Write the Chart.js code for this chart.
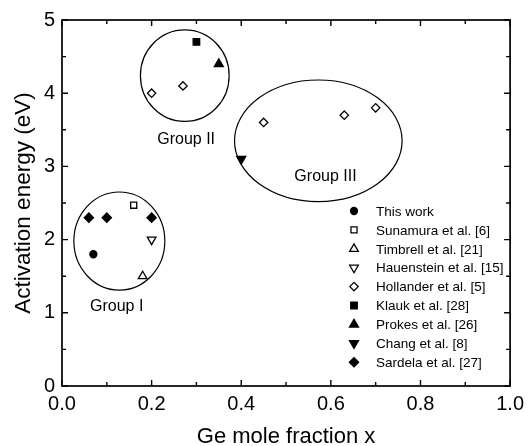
<!DOCTYPE html>
<html>
<head>
<meta charset="utf-8">
<script src="https://cdn.jsdelivr.net/npm/chart.js@4.4.1/dist/chart.umd.min.js"></script>
<style>
  html,body{margin:0;padding:0;background:#fff;}
  canvas{display:block;}
</style>
</head>
<body>
<canvas id="chart" width="530" height="446"></canvas>
<script>
// ===== data =====
const seriesNames = ['This work','Sunamura et al. [6]','Timbrell et al. [21]','Hauenstein et al. [15]',
  'Hollander et al. [5]','Klauk et al. [28]','Prokes et al. [26]','Chang et al. [8]','Sardela et al. [27]'];
const seriesX = [
  [0.07],
  [0.16],
  [0.18],
  [0.20],
  [0.20, 0.27, 0.45, 0.63, 0.70],
  [0.30],
  [0.35],
  [0.40],
  [0.06, 0.10, 0.20]
];
const seriesY = [
  [1.8],
  [2.47],
  [1.5],
  [2.0],
  [4.0, 4.1, 3.6, 3.7, 3.8],
  [4.7],
  [4.4],
  [3.1],
  [2.3, 2.3, 2.3]
];

// group ellipses (centre / half axes in data units) and their labels
const groupNames = ['Group I','Group II','Group III'];
const groupCx = [0.128, 0.274, 0.572];
const groupCy = [1.98, 4.24, 3.35];
const groupRx = [0.1015, 0.099, 0.187];
const groupRy = [0.67, 0.625, 0.83];
const groupLabelX = [0.122, 0.277, 0.588];
const groupLabelY = [1.09, 3.36, 2.86];

const xMajor = [0, 0.2, 0.4, 0.6, 0.8, 1.0];
const xMinor = [0.1, 0.3, 0.5, 0.7, 0.9];
const yMajor = [0, 1, 2, 3, 4, 5];
const yMinor = [0.5, 1.5, 2.5, 3.5, 4.5];

// ===== marker styles =====
const styles = [
  {pointStyle:'circle',   radius:3.5, fill:true,  rotation:0},
  {pointStyle:'rect',     radius:4.3, fill:false, rotation:0},
  {pointStyle:'triangle', radius:5,   fill:false, rotation:0},
  {pointStyle:'triangle', radius:5,   fill:false, rotation:180},
  {pointStyle:'rectRot',  radius:4.2, fill:false, rotation:0},
  {pointStyle:'rect',     radius:4.6, fill:true,  rotation:0},
  {pointStyle:'triangle', radius:5.2, fill:true,  rotation:0},
  {pointStyle:'triangle', radius:5.2, fill:true,  rotation:180},
  {pointStyle:'rectRot',  radius:4.6, fill:true,  rotation:0}
];

const FONT = 'Liberation Sans, Arial, Helvetica, sans-serif';

const datasets = seriesNames.map((name,i)=>({
  label:name,
  data:seriesX[i].map((x,j)=>({x:x,y:seriesY[i][j]})),
  pointStyle:styles[i].pointStyle,
  pointRadius:styles[i].radius,
  pointHoverRadius:styles[i].radius,
  pointRotation:styles[i].rotation,
  backgroundColor:styles[i].fill?'#000':'#fff',
  borderColor:'#000',
  borderWidth:1.3,
  showLine:false
}));

// frame + inward ticks on all four sides
const framePlugin = {
  id:'frame',
  afterDraw(chart){
    const {ctx, chartArea:a, scales:{x,y}} = chart;
    ctx.save();
    ctx.strokeStyle='#000';
    ctx.lineWidth=1.7;
    ctx.strokeRect(a.left, a.top, a.right-a.left, a.bottom-a.top);
    ctx.lineWidth=1.4;
    ctx.beginPath();
    const tickX=(v,len)=>{
      const px=x.getPixelForValue(v);
      ctx.moveTo(px,a.bottom); ctx.lineTo(px,a.bottom-len);
      ctx.moveTo(px,a.top);    ctx.lineTo(px,a.top+len);
    };
    const tickY=(v,len)=>{
      const py=y.getPixelForValue(v);
      ctx.moveTo(a.left,py);  ctx.lineTo(a.left+len,py);
      ctx.moveTo(a.right,py); ctx.lineTo(a.right-len,py);
    };
    xMajor.forEach(v=>tickX(v,6)); xMinor.forEach(v=>tickX(v,4));
    yMajor.forEach(v=>tickY(v,6)); yMinor.forEach(v=>tickY(v,4));
    ctx.stroke();
    ctx.restore();
  }
};

// ellipses around groups + labels
const groupPlugin = {
  id:'groups',
  beforeDatasetsDraw(chart){
    const {ctx, scales:{x,y}} = chart;
    ctx.save();
    ctx.strokeStyle='#000';
    ctx.lineWidth=1.2;
    groupNames.forEach((name,i)=>{
      const cx=x.getPixelForValue(groupCx[i]);
      const cy=y.getPixelForValue(groupCy[i]);
      const rx=Math.abs(x.getPixelForValue(groupCx[i]+groupRx[i])-cx);
      const ry=Math.abs(y.getPixelForValue(groupCy[i]+groupRy[i])-cy);
      ctx.beginPath();
      ctx.ellipse(cx,cy,rx,ry,0,0,Math.PI*2);
      ctx.stroke();
      ctx.fillStyle='#000';
      ctx.font='16px '+FONT;
      ctx.textAlign='center';
      ctx.textBaseline='middle';
      ctx.fillText(name, x.getPixelForValue(groupLabelX[i]), y.getPixelForValue(groupLabelY[i]));
    });
    ctx.restore();
  }
};

// legend inside the plot, bottom right
const legendPlugin = {
  id:'innerLegend',
  afterDraw(chart){
    const {ctx} = chart;
    const symX=354, textX=376, top=211, step=18.9;
    ctx.save();
    ctx.font='13.5px '+FONT;
    ctx.textAlign='left';
    ctx.textBaseline='middle';
    chart.data.datasets.forEach((ds,i)=>{
      const yy=top+i*step;
      ctx.fillStyle=ds.backgroundColor;
      ctx.strokeStyle='#000';
      ctx.lineWidth=1.3;
      Chart.helpers.drawPoint(ctx,{pointStyle:ds.pointStyle,radius:ds.pointRadius,rotation:ds.pointRotation,borderWidth:1.3},symX,yy);
      ctx.fillStyle='#000';
      ctx.fillText(ds.label,textX,yy+1);
    });
    ctx.restore();
  }
};

new Chart(document.getElementById('chart'),{
  type:'scatter',
  data:{datasets:datasets},
  plugins:[groupPlugin,framePlugin,legendPlugin],
  options:{
    responsive:false,
    animation:false,
    devicePixelRatio:1,
    layout:{padding:{top:20,right:16,left:0,bottom:0}},
    plugins:{legend:{display:false},tooltip:{enabled:false}},
    scales:{
      x:{
        type:'linear',min:0,max:1,
        afterFit(s){ s.height=60; },
        grid:{display:false,drawTicks:false},
        border:{display:false},
        ticks:{stepSize:0.2,color:'#000',padding:6,font:{family:FONT,size:20},
          callback:v=>v.toFixed(1)},
        title:{display:true,text:'Ge mole fraction x',color:'#000',
          font:{family:FONT,size:22,lineHeight:1},padding:{top:0,bottom:-2}}
      },
      y:{
        type:'linear',min:0,max:5,
        afterFit(s){ s.width=62; },
        grid:{display:false,drawTicks:false},
        border:{display:false},
        ticks:{stepSize:1,color:'#000',padding:7,font:{family:FONT,size:20}},
        title:{display:true,text:'Activation energy (eV)',color:'#000',
          font:{family:FONT,size:22.5,lineHeight:1},padding:{top:13,bottom:0}}
      }
    }
  }
});
</script>
</body>
</html>
